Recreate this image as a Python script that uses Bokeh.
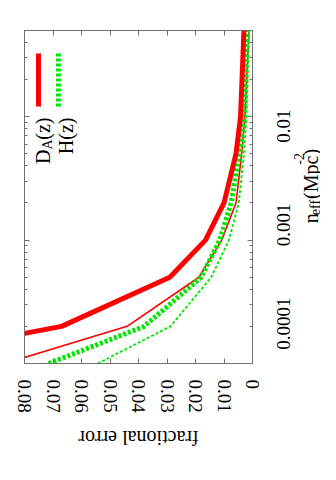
import math
from bokeh.plotting import figure
from bokeh.layouts import row, column
from bokeh.models import Range1d, LinearAxis, LogAxis, FixedTicker, Label, Arrow
from bokeh.embed import file_html
from bokeh.resources import INLINE

# ---- data ----
n_eff = [0.0001, 0.0002, 0.0005, 0.001, 0.002, 0.005, 0.01, 0.05]
da_thick = [0.135, 0.067, 0.029, 0.0165, 0.0100, 0.0058, 0.0042, 0.0030]
da_thin = [0.087, 0.044, 0.0188, 0.0108, 0.0058, 0.0038, 0.0027, 0.0012]
h_thick = [0.0715, 0.038, 0.0180, 0.0115, 0.0075, 0.0046, 0.0030, 0.0020]
h_thin = [0.0543, 0.0288, 0.0145, 0.0083, 0.0048, 0.0030, 0.0021, 0.0012]

err_ticks = [0.0, 0.01, 0.02, 0.03, 0.04, 0.05, 0.06, 0.07, 0.08]
err_tick_labels = ["0", "0.01", "0.02", "0.03", "0.04", "0.05", "0.06", "0.07", "0.08"]
n_ticks = [0.0001, 0.001, 0.01]
n_tick_labels = ["0.0001", "0.001", "0.01"]
n_minor = [m * t for t in n_ticks for m in range(2, 10)]

XMIN, XMAX = 0.0, 0.08
YMIN, YMAX = 1e-4, 0.05

FONT = "Liberation Serif"
GRAY = "#707070"
RED = "#ff0000"
GREEN = "#00e600"

# page-pixel <-> data helpers (frame spans page x 24..252, y 30..363)
FX0, FX1, FY0, FY1 = 24.0, 252.0, 30.0, 363.0
LO, HI = math.log10(YMIN), math.log10(YMAX)


def dx(px):
    return XMAX - (px - FX0) / (FX1 - FX0) * (XMAX - XMIN)


def dy(py):
    return 10 ** (LO + (FY1 - py) / (FY1 - FY0) * (HI - LO))


def py_of(v):
    return FY1 - (math.log10(v) - LO) / (HI - LO) * (FY1 - FY0)


def text_len(s, size):
    em = {".": 0.25}
    return sum(em.get(c, 0.5) for c in s) * size


MAIN_W, MAIN_H = 264, 420
p = figure(width=MAIN_W, height=MAIN_H, output_backend="svg", toolbar_location=None,
           x_range=Range1d(XMAX, XMIN), y_range=Range1d(YMIN, YMAX),
           y_axis_type="log", y_axis_location="right",
           min_border_left=24, min_border_right=MAIN_W - 252, min_border_top=30,
           min_border_bottom=MAIN_H - 363)
p.grid.visible = False
p.outline_line_color = GRAY
p.outline_line_width = 1
p.background_fill_color = "white"
p.border_fill_color = "white"


def style_axis(ax):
    ax.axis_line_color = GRAY
    ax.major_tick_line_color = GRAY
    ax.minor_tick_line_color = GRAY
    ax.major_tick_in = 5
    ax.major_tick_out = 0
    ax.minor_tick_in = 3
    ax.minor_tick_out = 0
    ax.major_label_text_font = FONT
    ax.major_label_text_font_size = "19px"
    ax.major_label_text_color = "black"


def hide_labels(ax):
    ax.major_label_text_color = None
    ax.major_label_text_font_size = "2px"
    ax.major_label_standoff = 0


# bottom axis: fractional error (reversed)
xb = p.xaxis[0]
xb.ticker = FixedTicker(ticks=err_ticks)
xb.major_label_overrides = dict(zip(err_ticks, err_tick_labels))
style_axis(xb)
xb.minor_tick_in = 0
xb.major_label_orientation = "vertical"
xb.major_label_standoff = 16

# right axis: n_eff (log); its labels are drawn in the strip beside it
yr = p.yaxis[0]
yr.ticker = FixedTicker(ticks=n_ticks, minor_ticks=n_minor)
style_axis(yr)
hide_labels(yr)

# mirror axes (ticks only)
xt = LinearAxis(ticker=FixedTicker(ticks=err_ticks))
style_axis(xt)
xt.minor_tick_in = 0
hide_labels(xt)
p.add_layout(xt, "above")
yl = LogAxis(ticker=FixedTicker(ticks=n_ticks, minor_ticks=n_minor))
style_axis(yl)
hide_labels(yl)
p.add_layout(yl, "left")

# curves
p.line(x=da_thin, y=n_eff, line_color=RED, line_width=1.6)
p.line(x=h_thin, y=n_eff, line_color=GREEN, line_width=1.8, line_dash="3 2")
p.line(x=h_thick, y=n_eff, line_color=GREEN, line_width=5, line_dash="3 2")
p.line(x=da_thick, y=n_eff, line_color=RED, line_width=5)

# legend samples
p.add_layout(Arrow(end=None, x_start=dx(38), y_start=dy(53), x_end=dx(38), y_end=dy(106),
                   line_color=RED, line_width=5))
p.add_layout(Arrow(end=None, x_start=dx(58), y_start=dy(53), x_end=dx(58), y_end=dy(106),
                   line_color=GREEN, line_width=5, line_dash="3 2"))


def lab(fig, x, y, text, size="20px", angle=math.pi / 2, align="left", baseline="alphabetic"):
    fig.add_layout(Label(x=x, y=y, text=text, angle=angle,
                         text_font=FONT, text_font_size=size, text_color="black",
                         text_align=align, text_baseline=baseline))


# legend texts (right aligned at the top end)
lab(p, dx(42), dy(117), "(z)", align="right")
lab(p, dx(47), dy(139), "A", size="14px", align="right")
lab(p, dx(42), dy(149), "D", align="right")
lab(p, dx(65), dy(117), "H(z)", align="right")


def aux_fig(w, h, x_range, y_range, y_axis_type="linear"):
    f = figure(width=w, height=h, output_backend="svg", toolbar_location=None,
               x_range=x_range, y_range=y_range, y_axis_type=y_axis_type,
               x_axis_location=None, y_axis_location=None,
               min_border=0, min_border_left=0, min_border_right=0,
               min_border_top=0, min_border_bottom=0)
    f.grid.visible = False
    f.outline_line_color = None
    f.background_fill_color = "white"
    f.border_fill_color = "white"
    return f


# right strip: shares the log scale of n_eff (x in page pixels)
AUX_R_W = 320 - MAIN_W
ar = aux_fig(AUX_R_W, MAIN_H, Range1d(MAIN_W, 320), Range1d(dy(MAIN_H), dy(0)),
             y_axis_type="log")
for t, s in zip(n_ticks, n_tick_labels):
    half = text_len(s, 19) / 2.0
    lab(ar, 283, dy(py_of(t) - half), s, size="19px", align="right")
lab(ar, 310, dy(243), "n")
lab(ar, 315, dy(233), "eff", size="14px")
lab(ar, 310, dy(212.5), "(Mpc")
lab(ar, 298, dy(169.2), "-2", size="14px")
lab(ar, 310, dy(157.5), ")")

# bottom strip: fractional error title, upside down (y in page pixels)
ab = aux_fig(320, 464 - MAIN_H, Range1d(0, 320), Range1d(464, MAIN_H))
lab(ab, 138, 437, "fractional error", angle=math.pi, align="center", baseline="middle")

layout = column(row(p, ar), ab)
open("out.html", "w").write(file_html(layout, INLINE))
